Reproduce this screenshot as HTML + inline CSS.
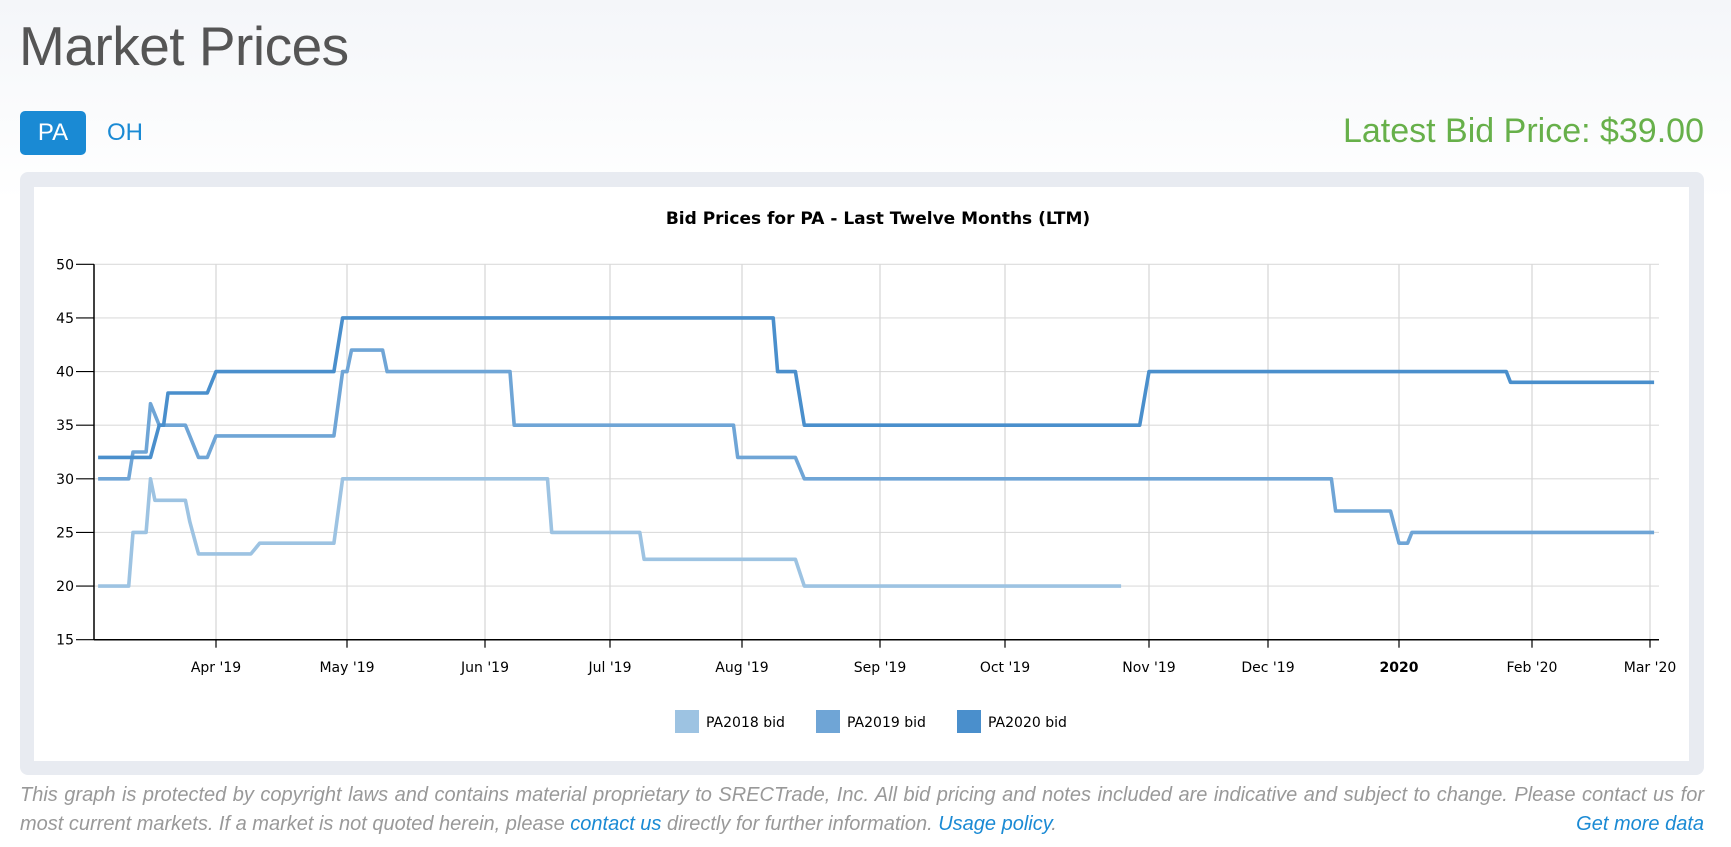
<!DOCTYPE html>
<html><head><meta charset="utf-8">
<style>
body{margin:0;width:1731px;height:847px;overflow:hidden;background:linear-gradient(#f4f6f9,#ffffff 200px);font-family:"Liberation Sans",sans-serif;position:relative}
.abs{position:absolute}
#title{left:19px;top:14px;font-size:55px;color:#555;letter-spacing:-0.5px;white-space:nowrap}
#pa{left:20px;top:111px;width:66px;height:44px;background:#1a8ad4;border-radius:5px;color:#fff;font-size:24px;line-height:44px;text-align:center}
#oh{left:107px;top:111px;line-height:44px;font-size:24px;color:#1a8ad4}
#latest{right:27px;top:112px;font-size:34px;color:#67b04a;white-space:nowrap}
#box{left:20px;top:172px;width:1684px;height:603px;background:#e8ebf1;border-radius:8px}
#inner{left:34px;top:187px;width:1655px;height:574px;background:#fff}
#foot{left:20px;top:781px;width:1684px;font-size:20px;font-style:italic;color:#999;line-height:29px}
#foot a{color:#1a8ad4;text-decoration:none}
.l1{text-align:justify;text-align-last:justify;white-space:nowrap}
</style></head><body>
<div class="abs" id="title">Market Prices</div>
<div class="abs" id="pa">PA</div>
<div class="abs" id="oh">OH</div>
<div class="abs" id="latest">Latest Bid Price: $39.00</div>
<div class="abs" id="box"></div>
<div class="abs" id="inner"></div>
<svg class="abs" id="chart" style="left:0;top:0" width="1731" height="847"></svg>
<div class="abs" id="foot">
<div class="l1">This graph is protected by copyright laws and contains material proprietary to SRECTrade, Inc. All bid pricing and notes included are indicative and subject to change. Please contact us for</div>
<div>most current markets. If a market is not quoted herein, please <a>contact us</a> directly for further information. <a>Usage policy</a>.<a style="float:right">Get more data</a></div>
</div>
<script>
const seriesNames=["PA2018 bid","PA2019 bid","PA2020 bid"];
const pa2018=[["2019-03-05",20],["2019-03-12",20],["2019-03-13",25],["2019-03-16",25],["2019-03-17",30],["2019-03-18",28],["2019-03-25",28],["2019-03-26",26],["2019-03-28",23],["2019-04-09",23],["2019-04-11",24],["2019-04-28",24],["2019-04-30",30],["2019-06-16",30],["2019-06-17",25],["2019-07-08",25],["2019-07-09",22.5],["2019-08-13",22.5],["2019-08-15",20],["2019-10-26",20]];
const pa2019=[["2019-03-05",30],["2019-03-12",30],["2019-03-13",32.5],["2019-03-16",32.5],["2019-03-17",37],["2019-03-19",35],["2019-03-25",35],["2019-03-26",34],["2019-03-28",32],["2019-03-30",32],["2019-04-01",34],["2019-04-28",34],["2019-04-30",40],["2019-05-01",40],["2019-05-02",42],["2019-05-09",42],["2019-05-10",40],["2019-06-07",40],["2019-06-08",35],["2019-07-30",35],["2019-07-31",32],["2019-08-13",32],["2019-08-15",30],["2019-12-16",30],["2019-12-17",27],["2019-12-30",27],["2020-01-01",24],["2020-01-03",24],["2020-01-04",25],["2020-03-02",25]];
const pa2020=[["2019-03-05",32],["2019-03-17",32],["2019-03-19",35],["2019-03-20",35],["2019-03-21",38],["2019-03-30",38],["2019-04-01",40],["2019-04-28",40],["2019-04-30",45],["2019-08-08",45],["2019-08-09",40],["2019-08-13",40],["2019-08-15",35],["2019-10-30",35],["2019-11-01",40],["2020-01-26",40],["2020-01-27",39],["2020-03-02",39]];
const yTicks=[15,20,25,30,35,40,45,50];
const xTickDates=["2019-04-01","2019-05-01","2019-06-01","2019-07-01","2019-08-01","2019-09-01","2019-10-01","2019-11-01","2019-12-01","2020-01-01","2020-02-01","2020-03-01"];
const xTickLabels=["Apr '19","May '19","Jun '19","Jul '19","Aug '19","Sep '19","Oct '19","Nov '19","Dec '19","2020","Feb '20","Mar '20"];
// layout calibration (ordinal axis)
const tickPx=[216,347,485,610,742,880,1005,1149,1268,1399,1532,1650];
const colors=["#9dc3e2","#6fa5d6","#4a8fcc"];
const L=94,R=1659,T=264.3,B=639.7,yMin=15,yMax=50;
const NS="http://www.w3.org/2000/svg";
const svg=document.getElementById('chart');
function day(s){return Date.parse(s+"T00:00:00Z")/864e5;}
function xOf(s){const d=day(s);const td=xTickDates.map(day);
 let i=0;if(d<td[0])i=0;else if(d>=td[td.length-1])i=td.length-2;else{while(d>=td[i+1])i++;}
 return tickPx[i]+(d-td[i])*(tickPx[i+1]-tickPx[i])/(td[i+1]-td[i]);}
function yOf(v){return B-(v-yMin)/(yMax-yMin)*(B-T);}
function el(t,a){const e=document.createElementNS(NS,t);for(const k in a)e.setAttribute(k,a[k]);svg.appendChild(e);return e;}
let e;
yTicks.forEach(v=>{
 e=el('line',{x1:L,x2:R,y1:yOf(v),y2:yOf(v),stroke:'#dcdcdc','stroke-width':1.2});
 
 
 e=el('line',{x1:76,x2:L,y1:yOf(v),y2:yOf(v),stroke:'#000','stroke-width':1.2});
 
 
 e=el('text',{x:74,y:yOf(v)+5,'text-anchor':'end','font-size':14,'font-family':'DejaVu Sans, sans-serif',fill:'#000'});
 e.textContent=v;
 
 
});
xTickDates.forEach((d,i)=>{
 const x=xOf(d);
 e=el('line',{x1:x,x2:x,y1:T,y2:B,stroke:'#d6d6d6','stroke-width':1.2});
 
 
 e=el('line',{x1:x,x2:x,y1:B,y2:B+8,stroke:'#000','stroke-width':1.2});
 
 
 e=el('text',{x:x,y:672,'text-anchor':'middle','font-size':14,'font-family':'DejaVu Sans, sans-serif',fill:'#000','font-weight':xTickLabels[i]==='2020'?'bold':'normal'});
 e.textContent=xTickLabels[i];
 
 
});
e=el('line',{x1:L,x2:L,y1:T,y2:B,stroke:'#000','stroke-width':1.5});


e=el('line',{x1:L,x2:R,y1:B,y2:B,stroke:'#000','stroke-width':1.5});


e=el('text',{x:878,y:224,'text-anchor':'middle','font-size':17,'font-weight':'bold','font-family':'DejaVu Sans, sans-serif',fill:'#000'});
e.textContent="Bid Prices for PA - Last Twelve Months (LTM)";


[pa2018,pa2019,pa2020].forEach((s,k)=>{
 e=el('polyline',{points:s.map(p=>xOf(p[0]).toFixed(1)+','+yOf(p[1]).toFixed(1)).join(' '),fill:'none',stroke:colors[k],'stroke-width':3.6,'stroke-linejoin':'round'});
 
 
});
const legX=[675,816,957];
seriesNames.forEach((n,k)=>{
 e=el('rect',{x:legX[k],y:710,width:24,height:23,fill:colors[k]});
 
 
 e=el('text',{x:legX[k]+31,y:727,'font-size':14,'font-family':'DejaVu Sans, sans-serif',fill:'#000'});
 e.textContent=n;
 
 
});
</script>
</body></html>
